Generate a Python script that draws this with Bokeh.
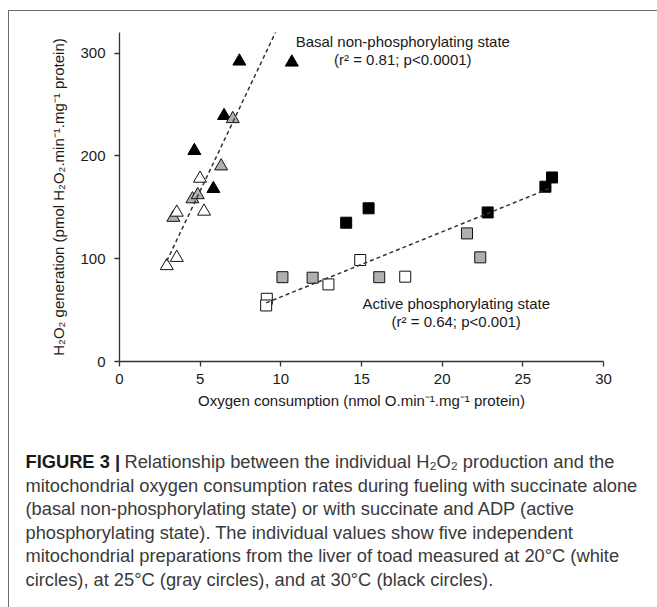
from bokeh.plotting import figure
from bokeh.models import Range1d, Label
from bokeh.layouts import column, row
from bokeh.core.properties import value
from bokeh.embed import file_html
from bokeh.resources import INLINE

# ---------------- data ----------------
# Basal non-phosphorylating state (triangles)
basal_white_x = [4.99, 5.24, 3.55, 3.55, 2.93]
basal_white_y = [178, 146, 145, 101, 93]
basal_gray_x = [7.02, 6.30, 4.52, 4.85, 3.34]
basal_gray_y = [236, 190, 158, 162, 140]
basal_black_x = [7.43, 10.68, 6.48, 4.64, 5.82]
basal_black_y = [292, 291, 239, 205, 168]

# Active phosphorylating state (squares)
active_white_x = [9.13, 9.09, 12.95, 14.92, 17.71]
active_white_y = [61, 54.5, 75, 98.7, 82.5]
active_gray_x = [10.10, 11.97, 16.10, 21.54, 22.36]
active_gray_y = [82, 81.5, 82, 124.6, 101.3]
active_black_x = [14.05, 15.44, 22.82, 26.40, 26.81]
active_black_y = [135, 149, 145, 170, 179]

# regression lines (slope, intercept) as drawn
basal_fit = (33.0, 1.0)
active_fit = (6.34, -0.65)

x_ticks = [0, 5, 10, 15, 20, 25, 30]
y_ticks = [0, 100, 200, 300]

x_title = "Oxygen consumption (nmol O.min\u207b\u00b9.mg\u207b\u00b9 protein)"
y_title = "H\u2082O\u2082 generation (pmol H\u2082O\u2082.min\u207b\u00b9.mg\u207b\u00b9 protein)"
basal_text = ["Basal non-phosphorylating state", "(r\u00b2 = 0.81; p<0.0001)"]
active_text = ["Active phosphorylating state", "(r\u00b2 = 0.64; p<0.001)"]

caption_bold = "FIGURE 3 |"
caption_lines = [
    "Relationship between the individual H\u2082O\u2082 production and the",
    "mitochondrial oxygen consumption rates during fueling with succinate alone",
    "(basal non-phosphorylating state) or with succinate and ADP (active",
    "phosphorylating state). The individual values show five independent",
    "mitochondrial preparations from the liver of toad measured at 20\u00b0C (white",
    "circles), at 25\u00b0C (gray circles), and at 30\u00b0C (black circles).",
]

# ---------------- styling / layout constants (pixels) ----------------
FONT = "Liberation Sans"
TXT = "#1a1a1a"
AX = "#333333"
GRAY = "#b0b0b0"

W = 648
H1 = 420
H2 = 176

p = figure(width=W, height=H1, output_backend="svg", toolbar_location=None,
           x_range=Range1d(0, 30), y_range=Range1d(0, 320),
           min_border_left=110, min_border_right=54, min_border_top=21, min_border_bottom=70)
p.outline_line_color = None
p.grid.visible = False
p.background_fill_color = "white"
p.border_fill_color = "white"

for ax in (p.xaxis[0], p.yaxis[0]):
    ax.axis_line_color = AX
    ax.axis_line_width = 1.3
    ax.major_tick_line_color = AX
    ax.major_tick_line_width = 1.3
    ax.major_tick_out = 5
    ax.major_tick_in = 0
    ax.minor_tick_line_color = None
    ax.major_label_text_font = FONT
    ax.major_label_text_font_size = "15px"
    ax.major_label_text_color = TXT
    ax.axis_label_text_font = FONT
    ax.axis_label_text_font_size = "15px"
    ax.axis_label_text_font_style = "normal"
    ax.axis_label_text_color = TXT

p.xaxis.ticker = x_ticks
p.yaxis.ticker = y_ticks
p.xaxis.axis_label = x_title
p.yaxis.axis_label = y_title
p.xaxis.major_label_standoff = 7
p.xaxis.axis_label_standoff = 5
p.yaxis.major_label_standoff = 9
p.yaxis.axis_label_standoff = 10

TRI = 13
SQ = 11
# black, then gray, then white on top
p.scatter(basal_black_x, basal_black_y, marker="triangle", size=TRI,
          fill_color="#000000", line_color="#000000", line_width=1)
p.scatter(basal_gray_x, basal_gray_y, marker="triangle", size=TRI,
          fill_color=GRAY, line_color="#111111", line_width=1)
p.scatter(basal_white_x, basal_white_y, marker="triangle", size=TRI,
          fill_color="white", line_color="#111111", line_width=1)
p.scatter(active_black_x, active_black_y, marker="square", size=SQ,
          fill_color="#000000", line_color="#000000", line_width=1)
p.scatter(active_gray_x, active_gray_y, marker="square", size=SQ,
          fill_color=GRAY, line_color="#111111", line_width=1)
p.scatter(active_white_x, active_white_y, marker="square", size=SQ,
          fill_color="white", line_color="#111111", line_width=1)

basal_all_x = basal_white_x + basal_gray_x + basal_black_x
active_all_x = active_white_x + active_gray_x + active_black_x
bx = [min(basal_all_x), max(basal_all_x)]
ax_ = [min(active_all_x), max(active_all_x)]
p.line(bx, [basal_fit[0] * v + basal_fit[1] for v in bx],
       line_color=AX, line_width=1.5, line_dash="4 3")
p.line(ax_, [active_fit[0] * v + active_fit[1] for v in ax_],
       line_color=AX, line_width=1.5, line_dash="4 3")

for txt, yy in zip(basal_text, [311.5, 294]):
    p.add_layout(Label(x=17.56, y=yy, text=txt, text_align="center", text_baseline="middle",
                       text_font=FONT, text_font_size="15px", text_color=TXT))
for txt, yy in zip(active_text, [56, 38.8]):
    p.add_layout(Label(x=20.87, y=yy, text=txt, text_align="center", text_baseline="middle",
                       text_font=FONT, text_font_size="15px", text_color=TXT))

# ---------------- caption (own figure, pixel coordinates) ----------------
c = figure(width=W, height=H2, output_backend="svg", toolbar_location=None,
           x_range=Range1d(0, W), y_range=Range1d(H2, 0),
           x_axis_location=None, y_axis_location=None, min_border=0)
c.outline_line_color = None
c.grid.visible = False
c.background_fill_color = "white"
c.border_fill_color = "white"

CAP_LEFT = 16
CAP_REST_LEFT = 115
CAP_TOP = 30
CAP_STEP = 23.5
CF_SIZE = "18.3px"
line_y = [CAP_TOP + CAP_STEP * i for i in range(len(caption_lines))]
line_x = [CAP_REST_LEFT] + [CAP_LEFT] * (len(caption_lines) - 1)

c.text(x=[CAP_LEFT], y=[line_y[0]], text=[caption_bold], text_font=value(FONT),
       text_font_size=CF_SIZE, text_font_style="bold", text_color="#1a1a1a",
       text_baseline="middle")
c.text(x=line_x, y=line_y, text=caption_lines, text_font=value(FONT),
       text_font_size=CF_SIZE, text_color="#3a3a3a", text_baseline="middle")

layout = column(p, row(c), spacing=0,
                styles={"margin-left": "8px", "margin-top": "10px",
                        "border-top": "1px solid #6a6a6a", "border-left": "1px solid #6a6a6a"})

open("out.html", "w").write(file_html(layout, INLINE))
